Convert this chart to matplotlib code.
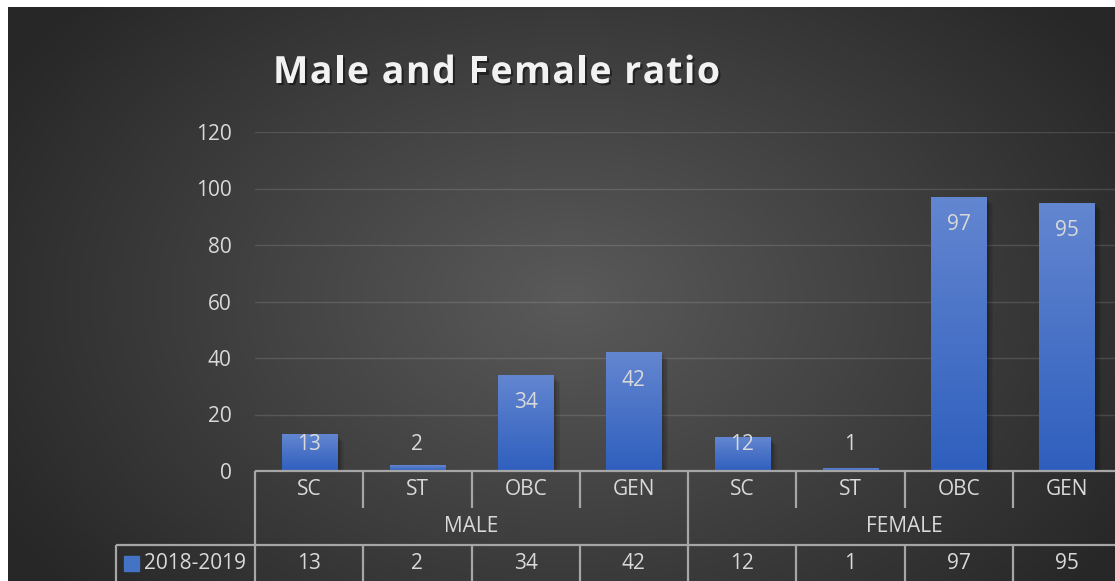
import numpy as np
import matplotlib
matplotlib.use("Agg")
import matplotlib.pyplot as plt
import matplotlib.patheffects as pe
from matplotlib.colors import LinearSegmentedColormap

# ---- data ----
categories = ["SC", "ST", "OBC", "GEN", "SC", "ST", "OBC", "GEN"]
groups = ["MALE", "FEMALE"]
series_name = "2018-2019"
values = [13, 2, 34, 42, 12, 1, 97, 95]
yticks = [0, 20, 40, 60, 80, 100, 120]
title = "Male and Female ratio"

W, H = 1115, 581
DPI = 100
FONT = "Open Sans"
TXT = "#d9d9d9"
LINE = "#a6a6a6"
FS = 15

fig = plt.figure(figsize=(W / DPI, H / DPI), dpi=DPI, facecolor="white")

def px_rect(x0, y0, x1, y1):
    return [x0 / W, 1 - y1 / H, (x1 - x0) / W, (y1 - y0) / H]

# ---- background radial gradient ----
bg = fig.add_axes(px_rect(8, 7, W, H))
bg.set_axis_off()
nx, ny = 400, 220
xs = np.linspace(8, W, nx)
ys = np.linspace(7, H, ny)
X, Y = np.meshgrid(xs, ys)
cx, cy, rx, ry = 570, 300, 660, 450
d = np.sqrt(((X - cx) / rx) ** 2 + ((Y - cy) / ry) ** 2)
d = np.clip(d, 0, 1)
c_in, c_out = 0x5a / 255, 0x27 / 255
g = c_in + (c_out - c_in) * d
bg.imshow(np.dstack([g, g, g]), aspect="auto", extent=[0, 1, 0, 1],
          interpolation="bilinear")
bg.set_xlim(0, 1)
bg.set_ylim(0, 1)

# ---- main axes ----
ax_left, ax_right, ax_top, ax_bot = 255, 1121, 132, 471
ax = fig.add_axes(px_rect(ax_left, ax_top, ax_right, ax_bot))
ax.patch.set_alpha(0)
n = len(categories)
x = np.arange(n)
ax.set_xlim(-0.5, n - 0.5)
ax.set_ylim(0, 120)
ax.set_yticks(yticks)
ax.set_yticklabels([str(t) for t in yticks], fontsize=FS, color=TXT,
                   fontname=FONT)
ax.set_xticks([])
ax.tick_params(axis="y", length=0, pad=17)
for s in ax.spines.values():
    s.set_visible(False)
ax.yaxis.grid(True, color=TXT, alpha=0.16, lw=1.0)
ax.set_axisbelow(True)

bars = ax.bar(x, values, width=0.51, color="#4472c4", edgecolor="none",
              zorder=2)
grad = LinearSegmentedColormap.from_list("b", ["#2f5fbe", "#6386d0"])
gimg = np.linspace(0, 1, 100).reshape(-1, 1)
shadow_fx = [pe.SimplePatchShadow(offset=(o, -o), shadow_rgbFace="black",
                                  alpha=0.07) for o in (1, 2, 3, 4, 5)]
for b in bars:
    b.set_path_effects(shadow_fx + [pe.Normal()])
    x0, w, h = b.get_x(), b.get_width(), b.get_height()
    im = ax.imshow(gimg, cmap=grad, origin="lower", aspect="auto",
                   extent=[x0, x0 + w, 0, h], zorder=3)
    im.set_clip_path(b)
ax.set_xlim(-0.5, n - 0.5)
ax.set_ylim(0, 120)

ppu = (ax_bot - ax_top) / 120.0
for xi, v in zip(x, values):
    ypos = max(v - 28 / ppu, 26 / ppu)
    ax.text(xi, ypos, str(v), ha="center", va="center", fontsize=FS,
            color=TXT, fontname=FONT, zorder=5)

# ---- data table ----
row_h = 37
tb = fig.add_axes(px_rect(ax_left, ax_bot, ax_right, ax_bot + 3 * row_h))
tb.patch.set_alpha(0)
tb.set_axis_off()
tb.set_xlim(-0.5, n - 0.5)
tb.set_ylim(3, 0)
cw = (ax_right - ax_left) / n
leg_left = -0.5 - (ax_left - 116) / cw

kw = dict(color=LINE, lw=1.6, clip_on=False, solid_capstyle="butt")
tb.plot([-0.5, n - 0.5], [0, 0], **kw)
tb.plot([leg_left, n - 0.5], [2, 2], **kw)
tb.plot([-0.5, -0.5], [0, 3], **kw)
tb.plot([leg_left, leg_left], [2, 3], **kw)
tb.plot([n / 2 - 0.5, n / 2 - 0.5], [0, 3], **kw)
for k in range(1, n):
    if k == n // 2:
        continue
    tb.plot([k - 0.5, k - 0.5], [0, 1], **kw)
    tb.plot([k - 0.5, k - 0.5], [2, 3], **kw)
tb.plot([n - 0.5, n - 0.5], [0, 3], **kw)

for xi, c in enumerate(categories):
    tb.text(xi, 0.5, c, ha="center", va="center", fontsize=FS, color=TXT,
            fontname=FONT)
for gi, gname in enumerate(groups):
    tb.text(gi * n / 2 + n / 4 - 0.5, 1.5, gname, ha="center", va="center",
            fontsize=FS, color=TXT, fontname=FONT)
for xi, v in enumerate(values):
    tb.text(xi, 2.5, str(v), ha="center", va="center", fontsize=FS,
            color=TXT, fontname=FONT)

key_l = leg_left + 8 / cw
key_w = 15 / cw
tb.add_patch(plt.Rectangle((key_l, 2.5 - 7.5 / row_h), key_w, 15 / row_h,
                           color="#4472c4", clip_on=False))
tb.text(key_l + key_w + 5 / cw, 2.5, series_name, ha="left", va="center",
        fontsize=FS, color=TXT, fontname=FONT)

# ---- title with letter spacing ----
renderer = fig.canvas.get_renderer()
tkw = dict(fontsize=27, fontweight="bold", color="#f2f2f2", fontname=FONT,
           va="baseline", ha="left",
           path_effects=[pe.withSimplePatchShadow(offset=(1.5, -1.5),
                                                  shadow_rgbFace="black",
                                                  alpha=0.45)])
def width_of(s):
    t = fig.text(0, 0, s, **{k: v for k, v in tkw.items() if k != "path_effects"})
    wpx = t.get_window_extent(renderer).width
    t.remove()
    return wpx
sent = "|"
wsent = width_of(sent)
prefix = [0.0]
for i in range(1, len(title) + 1):
    prefix.append(width_of(title[:i] + sent) - wsent)
natural = prefix[-1]
t_left, t_right = 273, 720
gap = (t_right - t_left - natural) / (len(title) - 1)
base_y = 1 - 83 / H
for i, ch in enumerate(title):
    if ch == " ":
        continue
    xpx = t_left + prefix[i] + gap * i
    fig.text(xpx / W, base_y, ch, **tkw)

fig.savefig("out.png", dpi=DPI, facecolor="white")
